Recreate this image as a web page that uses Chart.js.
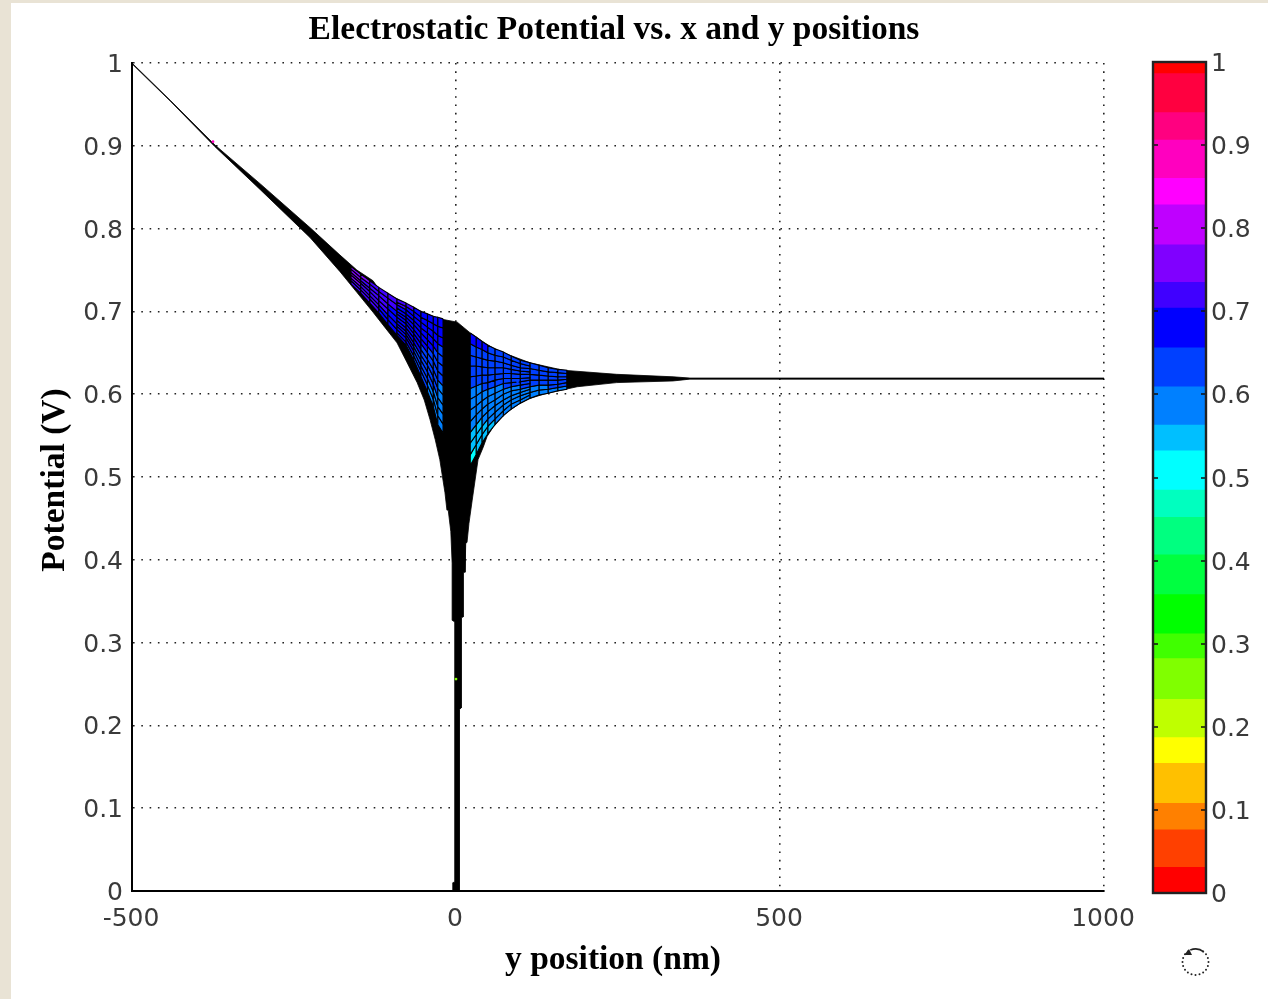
<!DOCTYPE html>
<html><head><meta charset="utf-8">
<script src="https://cdn.jsdelivr.net/npm/chart.js@4"></script>
<style>
html,body{margin:0;padding:0;width:1268px;height:999px;overflow:hidden;background:#e9e3d5}
#sheet{position:absolute;left:11px;top:3px;width:1257px;height:996px;background:#fff}
canvas{position:absolute;filter:blur(.55px)}
#main{left:0;top:0}
#bar{left:1140px;top:0}
</style></head><body>
<div id="sheet"></div>
<canvas id="main" width="1268" height="999"></canvas>
<canvas id="bar" width="128" height="999"></canvas>
<script>
const titleText = "Electrostatic Potential vs. x and y positions";
const xLabel = "y position (nm)";
const yLabel = "Potential (V)";

// outline of the whole surface, clockwise from the top-left corner [y nm, potential]
const outlineY = [-500,-441,-372,-302,-225,-179,-153,-128,-120,-91,-52,-25,2,22,42,63,114,165,248,335,361,1000,
  1000,361,335,248,187,140,114,99,73,57,48,42,34,25,20,17,15,14,11,11,8,8,5,5,
  -5,-5,-2,-2,-6,-6,-8,-12,-14,-17,-25,-32,-40,-49,-60,-76,-91,-110,-128,-153,-179,-225,-302,-372,-441,-500];
const outlineV = [1,.955,.901,.854,.801,.768,.750,.737,.728,.715,.699,.691,.687,.674,.663,.653,.638,.629,.624,.621,.6195,.6195,
  .6182,.6182,.616,.614,.609,.601,.595,.589,.575,.560,.549,.536,.521,.472,.444,.421,.420,.385,.385,.331,.330,.221,.219,0,
  0,.010,.011,.325,.327,.396,.434,.460,.460,.481,.521,.545,.569,.593,.614,.639,.662,.681,.699,.723,.748,.789,.847,.899,.954,.999];

// mesh on the right of the centre: y positions of the columns, one list of potentials per mesh line
const rightCols = [22,31,40,49,60,73,85,99,114,128,142,157,171];
const rightRows = [
 [.674,.669,.664,.659,.655,.651,.646,.641,.638,.635,.632,.630,.629],
 [.661,.657,.654,.650,.647,.645,.641,.637,.634,.632,.629,.628,.627],
 [.647,.645,.643,.641,.640,.638,.635,.632,.631,.629,.627,.626,.625],
 [.634,.634,.633,.632,.632,.632,.630,.628,.627,.626,.624,.623,.623],
 [.621,.622,.623,.623,.624,.625,.625,.624,.624,.623,.622,.621,.621],
 [.607,.610,.613,.614,.617,.619,.619,.619,.620,.620,.619,.619,.619],
 [.594,.598,.603,.606,.609,.613,.614,.615,.617,.617,.617,.617,.618],
 [.581,.586,.592,.597,.601,.606,.609,.611,.613,.614,.614,.615,.616],
 [.567,.575,.582,.588,.593,.600,.604,.606,.609,.611,.611,.612,.614],
 [.554,.563,.572,.579,.586,.593,.598,.602,.606,.608,.609,.610,.612],
 [.541,.551,.561,.570,.578,.587,.593,.598,.602,.605,.606,.608,.610],
 [.527,.539,.551,.561,.570,.580,.588,.593,.599,.602,.604,.606,.608],
 [.514,.527,.541,.552,.563,.574,.582,.589,.595,.599,.601,.604,.606]];

// mesh on the left of the centre
const leftCols = [-20,-28,-35,-44,-54,-65,-77,-91,-105,-119,-133,-147,-162];
const leftRows = [
 [.691,.693,.694,.697,.700,.705,.710,.715,.722,.729,.737,.745,.754],
 [.680,.682,.685,.689,.693,.700,.706,.711,.719,.726,.735,.743,.752],
 [.668,.671,.676,.681,.687,.694,.702,.708,.716,.724,.733,.741,.751],
 [.657,.661,.667,.674,.680,.689,.697,.704,.712,.721,.730,.739,.749],
 [.645,.650,.658,.666,.674,.684,.693,.700,.709,.719,.728,.737,.747],
 [.634,.639,.649,.658,.667,.678,.689,.697,.706,.716,.726,.736,.745],
 [.622,.628,.640,.650,.661,.673,.685,.693,.703,.713,.724,.734,.744],
 [.610,.617,.630,.642,.654,.668,.680,.689,.700,.711,.721,.732,.742],
 [.599,.607,.621,.635,.647,.662,.676,.685,.696,.708,.719,.730,.740],
 [.587,.596,.612,.627,.641,.657,.672,.682,.693,.706,.717,.728,.738],
 [.576,.585,.603,.619,.634,.652,.668,.678,.690,.703,.715,.726,.737],
 [.564,.574,.594,.611,.628,.646,.663,.674,.687,.701,.712,.724,.735],
 [.553,.563,.585,.603,.621,.641,.659,.671,.684,.698,.710,.722,.733]];

// isolated coloured specks [y nm, potential]
const speckY = [-375,0,95];
const speckV = [.905,.256,.615];

// colour bar: band edges and colours, bottom to top
const bandEdges = [0,.031,.076,.108,.156,.187,.233,.282,.312,.359,.407,.452,.485,.532,.563,.609,.656,.704,.735,.780,.828,.860,.906,.939,.986,1];
const bandColors = ["#ff0000","#ff4000","#ff8000","#ffc000","#ffff00","#bfff00","#80ff00","#40ff00","#00ff00","#00ff40","#00ff80","#00ffbf","#00ffff","#00bfff","#0080ff","#0040ff","#0000ff","#4000ff","#8000ff","#bf00ff","#ff00ff","#ff00bf","#ff0080","#ff0040","#ff0000"];

const tickFont = {family:"'DejaVu Sans'",size:25};
const labelFont = {family:"'Liberation Serif'",size:33.5,weight:'bold'};
const tickFmt = v => String(Number(Number(v).toFixed(1)));
const colourOf = v => { for (let i=0;i<bandColors.length;i++) if (v<bandEdges[i+1]) return bandColors[i]; return bandColors[bandColors.length-1]; };

function meshCells(cols, rows, coarseFrom){
  const out=[];
  for(let j=0;j<cols.length-1;j++){
    const step = j>=coarseFrom ? 2 : 1;
    for(let i=0;i+step<rows.length;i+=step){
      const a=rows[i][j],b=rows[i][j+1],c=rows[i+step][j+1],d=rows[i+step][j];
      out.push({type:'scatter',showLine:true,order:2,fill:'shape',tension:0,pointRadius:0,
        borderColor:'#000',borderWidth:1.1,backgroundColor:colourOf((a+b+c+d)/4),
        data:[{x:cols[j],y:a},{x:cols[j+1],y:b},{x:cols[j+1],y:c},{x:cols[j],y:d},{x:cols[j],y:a}]});
    }
  }
  return out;
}

const datasets=[
 {showLine:true,order:3,fill:'shape',tension:0,pointRadius:0,borderColor:'#000',borderWidth:.8,backgroundColor:'#000',
  data:outlineY.map((x,i)=>({x,y:outlineV[i]}))},
 ...meshCells(rightCols,rightRows,8),
 ...meshCells(leftCols,leftRows,7),
 {order:1,pointRadius:1.4,pointBorderWidth:0,pointBackgroundColor:speckV.map(colourOf),
  data:speckY.map((x,i)=>({x,y:speckV[i]}))}
];

// small offsets of the axis texts, applied while each text is drawn by the library
function nudge(scale,method,dx,dy){
  const orig=scale[method];
  scale[method]=function(...a){const g=this.ctx;g.save();g.translate(dx,dy);orig.apply(this,a);g.restore();};
}
const nudges={id:'nudges',afterLayout(c){
  c.titleBlock.left-=4;c.titleBlock.right-=4;
  if(!c.$nudged){c.$nudged=true;
    nudge(c.scales.x,'drawTitle',-5,0);
    nudge(c.scales.y,'drawTitle',0,3);
    nudge(c.scales.y,'drawLabels',0,2.5);
    nudge(c.scales.x,'drawLabels',-1,2);
  }
}};
const spinner={id:'spinner',afterDraw(c){
  const g=c.ctx,cx=1195.5,cy=962,r=13;
  g.save();g.fillStyle='#222';
  for(let a=0;a<20;a++){const t=a/20*2*Math.PI;
    if(t>4.3&&t<5.3)continue;
    g.beginPath();g.arc(cx+r*Math.cos(t),cy+r*Math.sin(t),1,0,7);g.fill();}
  g.strokeStyle='#222';g.lineWidth=1.6;g.beginPath();g.arc(cx,cy,r,4.3,5.4);g.stroke();
  g.beginPath();g.moveTo(1184,955);g.lineTo(1189,949);g.lineTo(1192,955);g.closePath();g.fill();
  g.restore();
}};

new Chart(document.getElementById('main'),{
 type:'scatter',
 data:{datasets},
 plugins:[spinner,nudges],
 options:{responsive:false,animation:false,events:[],
  layout:{padding:{left:0,right:164,top:0,bottom:0}},
  plugins:{legend:{display:false},tooltip:{enabled:false},
   title:{display:true,text:titleText,fullSize:false,color:'#000',font:labelFont,padding:{top:10,bottom:12.8}}},
  scales:{
   x:{type:'linear',min:-500,max:1000,
    afterFit(s){s.height=108;},
    ticks:{stepSize:500,maxRotation:0,color:'#3a3a3a',font:tickFont,padding:11,callback:tickFmt},
    grid:{color:'#222',lineWidth:1.6,drawTicks:false},
    border:{display:true,color:'#000',width:2,dash:[1.6,6.7]},
    title:{display:true,text:xLabel,color:'#000',font:labelFont,padding:{top:0,bottom:19}}},
   y:{min:0,max:1,
    afterFit(s){s.width=132;},
    ticks:{stepSize:.1,color:'#3a3a3a',font:tickFont,padding:9,autoSkip:false,callback:tickFmt},
    grid:{color:'#222',lineWidth:1.6,drawTicks:false},
    border:{display:true,color:'#000',width:2,dash:[1.6,6.7]},
    title:{display:true,text:yLabel,color:'#000',font:labelFont,padding:{top:35,bottom:0}}}
  }}
});

const barTicks={id:'barTicks',afterLayout(c){
  if(!c.$nudged){c.$nudged=true;nudge(c.scales.y,'drawLabels',0,2.5);}
},afterDraw(c){
  const g=c.ctx,a=c.chartArea,y=c.scales.y;
  g.save();g.strokeStyle='#111';g.lineWidth=1.6;
  y.ticks.forEach(t=>{const p=Math.round(y.getPixelForValue(t.value));
    g.beginPath();g.moveTo(a.left,p);g.lineTo(a.left+5,p);g.moveTo(a.right,p);g.lineTo(a.right-5,p);g.stroke();});
  g.lineWidth=2.4;g.strokeStyle='#222';g.strokeRect(a.left,a.top,a.right-a.left,a.bottom-a.top);
  g.restore();
}};
new Chart(document.getElementById('bar'),{
 type:'bar',
 data:{labels:['potential'],datasets:bandColors.map((col,i)=>({
   data:[[bandEdges[i],bandEdges[i+1]]],backgroundColor:col,borderWidth:0,barPercentage:1,categoryPercentage:1}))},
 plugins:[barTicks],
 options:{responsive:false,animation:false,events:[],
  layout:{padding:{left:13,right:0,top:62,bottom:106}},
  plugins:{legend:{display:false},tooltip:{enabled:false}},
  scales:{
   x:{stacked:true,display:false},
   y:{position:'right',min:0,max:1,stacked:false,afterFit(s){s.width=62;},
    ticks:{stepSize:.1,color:'#3a3a3a',font:tickFont,padding:5,autoSkip:false,callback:tickFmt},
    grid:{display:false,drawTicks:false},border:{display:false}}
  }}
});
</script>
</body></html>
